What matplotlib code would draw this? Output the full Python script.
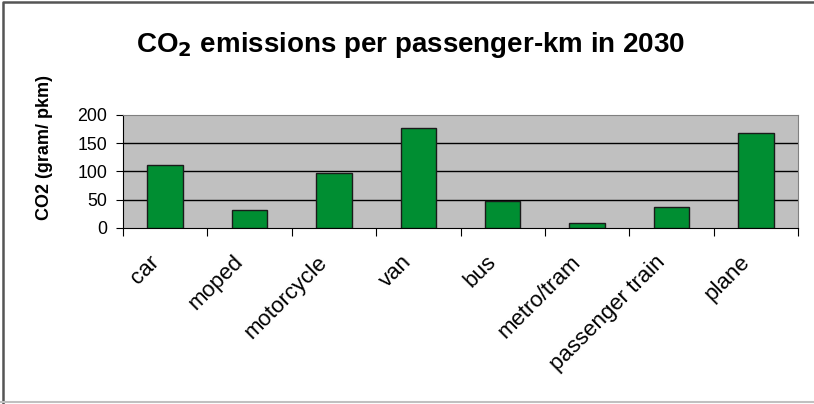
import matplotlib.pyplot as plt
from matplotlib.lines import Line2D
import numpy as np

plt.rcParams['font.family'] = ['Liberation Sans', 'DejaVu Sans']

# valeurs (g CO2 / passager-km, 2030)
modes = ["car", "moped", "motorcycle", "van", "bus", "metro/tram", "passenger train", "plane"]
co2 = [111, 32, 97, 177, 48, 9, 38, 168]
yticks = [0, 50, 100, 150, 200]

fig = plt.figure(figsize=(8.14, 4.04), dpi=100)
ax = fig.add_axes([123 / 814, 1 - 228 / 404, (798 - 123) / 814, (228 - 115) / 404])

x = np.arange(len(modes))
ax.set_facecolor("#c0c0c0")
ax.bar(x, co2, width=0.42, color="#008e32", edgecolor="#1a1a1a", linewidth=1.0, zorder=3)

ax.set_xlim(-0.5, len(modes) - 0.5)
ax.set_ylim(0, 200)
ax.set_yticks(yticks)
ax.set_yticklabels([str(v) for v in yticks], fontsize=12.8)
for v in yticks[1:-1]:
    ax.axhline(v, color="black", linewidth=1.0, zorder=2)

# ticks entre les catégories ; libellés un peu décalés vers la gauche
ax.set_xticks(np.arange(len(modes) + 1) - 0.5)
ax.set_xticklabels([])
ax.set_xticks(x - 0.2, minor=True)
ax.set_xticklabels(modes, minor=True, rotation=45, ha="right",
                   rotation_mode="anchor", fontsize=16)
ax.tick_params(axis="x", which="minor", length=0, pad=17)
ax.tick_params(axis="x", which="major", length=6, direction="out")
ax.tick_params(axis="y", length=5, direction="out", pad=6.5)

ax.spines["top"].set_color("#808080")
ax.spines["right"].set_color("#808080")
ax.spines["left"].set_color("black")
ax.spines["bottom"].set_color("black")

ax.set_ylabel("CO2 (gram/ pkm)", fontsize=13, fontweight="bold")
ax.yaxis.set_label_coords(-0.104, 0.712)

fig.text(0.505, 1 - 45 / 404, r"CO$_\mathbf{2}$ emissions per passenger-km in 2030",
         ha="center", va="center", fontsize=20, fontweight="bold")

# cadre extérieur
fig.add_artist(Line2D([0.004, 0.004, 0.999], [0.0, 0.995, 0.995], transform=fig.transFigure,
                      color="#555555", linewidth=1.8))
fig.add_artist(Line2D([0.0, 1.0], [0.006, 0.006], transform=fig.transFigure,
                      color="#c0c0c0", linewidth=1.5))

fig.savefig("out.png", dpi=100)
